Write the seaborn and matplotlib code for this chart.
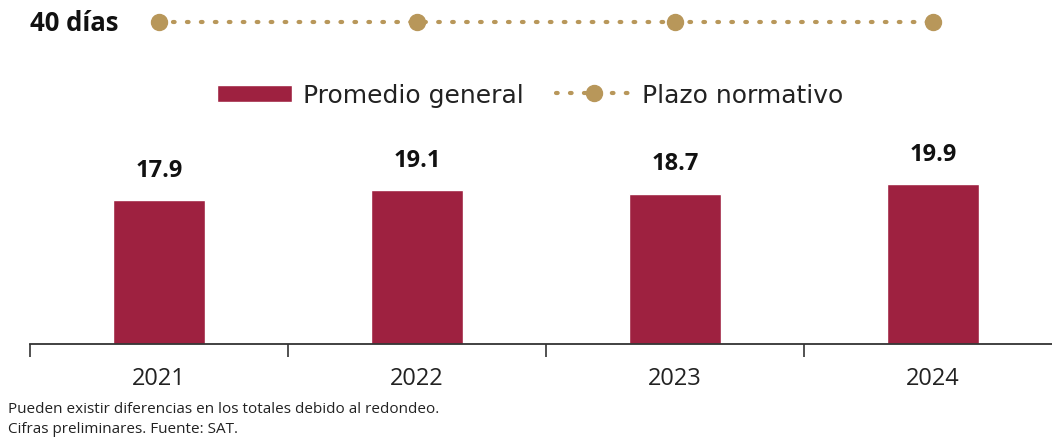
import numpy as np
import pandas as pd
import seaborn as sns
import matplotlib.pyplot as plt
from matplotlib.ticker import FixedLocator

# datos
anios = ['2021', '2022', '2023', '2024']
promedio = [17.9, 19.1, 18.7, 19.9]
plazo = [40, 40, 40, 40]

vino = '#9E2140'
oro = '#B8975A'

sns.set_theme(style='white')
plt.rcParams['font.family'] = ['Open Sans', 'DejaVu Sans']

fig = plt.figure(figsize=(10.52, 4.39), dpi=100)
ax = fig.add_axes([30 / 1052, 1 - 345 / 439, 1022 / 1052, 342 / 439])

df = pd.DataFrame({'anio': anios, 'promedio': promedio})
sns.barplot(data=df, x='anio', y='promedio', color=vino, width=0.357,
            saturation=1, ax=ax, label='Promedio general')
ax.plot(range(len(anios)), plazo, color=oro, lw=3, dashes=(0.4, 2.95),
        dash_capstyle='round', marker='o', markersize=11.5, label='Plazo normativo')

ax.bar_label(ax.containers[0], fmt='%.1f', padding=13, fontsize=17,
             fontweight='bold', color='#111111')

ax.set_ylim(0, 42.5)
ax.set_xlim(-0.5, -0.5 + 1022 / 258)
ax.set_xlabel('')
ax.set_ylabel('')
ax.set_yticks([])
for s in ['top', 'right', 'left']:
    ax.spines[s].set_visible(False)
ax.spines['bottom'].set_color('#333333')
ax.spines['bottom'].set_linewidth(1.3)
ax.tick_params(axis='x', which='major', length=0, labelsize=17, pad=16, labelcolor='#222222')
ax.xaxis.set_minor_locator(FixedLocator([-0.5, 0.5, 1.5, 2.5]))
ax.tick_params(axis='x', which='minor', bottom=True, length=9.5, width=1.2,
               color='#333333', direction='out')

ax.text(-0.5, 40, '40 días', fontsize=18.5, fontweight='bold', color='#111111',
        ha='left', va='center', transform=ax.transData, clip_on=False)

h, l = ax.get_legend_handles_labels()
orden = [l.index('Promedio general'), l.index('Plazo normativo')]
leg = ax.legend([h[i] for i in orden], [l[i] for i in orden],
                loc='center', bbox_to_anchor=(530 / 1052, 1 - 96 / 439),
                bbox_transform=fig.transFigure, ncol=2, frameon=False,
                prop={'family': 'DejaVu Sans', 'size': 18}, handlelength=3.0,
                handleheight=0.65, columnspacing=1.3, handletextpad=0.45)
for t in leg.get_texts():
    t.set_color('#222222')

fig.text(8 / 1052, 1 - 410 / 439, 'Pueden existir diferencias en los totales debido al redondeo.',
         fontsize=11, color='#222222', va='center')
fig.text(8 / 1052, 1 - 430 / 439, 'Cifras preliminares. Fuente: SAT.',
         fontsize=11, color='#222222', va='center')

fig.savefig('out.png', dpi=100)
